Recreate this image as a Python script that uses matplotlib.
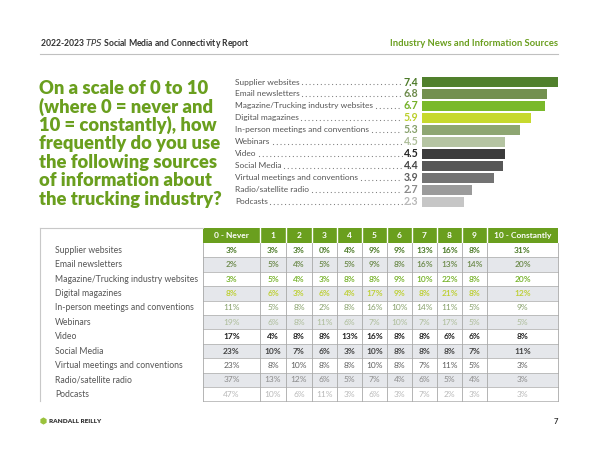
import matplotlib
matplotlib.use('Agg')
import matplotlib.pyplot as plt
from matplotlib.patches import Rectangle, RegularPolygon

plt.rcParams['font.family'] = ['Lato', 'DejaVu Sans']

# ---- data ----
sources = ['Supplier websites', 'Email newsletters', 'Magazine/Trucking industry websites',
           'Digital magazines', 'In-person meetings and conventions', 'Webinars', 'Video',
           'Social Media', 'Virtual meetings and conventions', 'Radio/satellite radio', 'Podcasts']
averages = [7.4, 6.8, 6.7, 5.9, 5.3, 4.5, 4.5, 4.4, 3.9, 2.7, 2.3]
scale_labels = ['0 - Never', '1', '2', '3', '4', '5', '6', '7', '8', '9', '10 - Constantly']
shares = [
    [3, 3, 3, 0, 4, 9, 9, 13, 16, 8, 31],
    [2, 5, 4, 5, 5, 9, 8, 16, 13, 14, 20],
    [3, 5, 4, 3, 8, 8, 9, 10, 22, 8, 20],
    [8, 6, 3, 6, 4, 17, 9, 8, 21, 8, 12],
    [11, 5, 8, 2, 8, 16, 10, 14, 11, 5, 9],
    [19, 6, 8, 11, 6, 7, 10, 7, 17, 5, 5],
    [17, 4, 8, 8, 13, 16, 8, 8, 6, 6, 8],
    [23, 10, 7, 6, 3, 10, 8, 8, 8, 7, 11],
    [23, 8, 10, 8, 8, 10, 8, 7, 11, 5, 3],
    [37, 13, 12, 6, 5, 7, 4, 6, 5, 4, 3],
    [47, 10, 6, 11, 3, 6, 3, 7, 2, 3, 3],
]
question = ['On a scale of 0 to 10', '(where 0 = never and', '10 = constantly), how',
            'frequently do you use', 'the following sources', 'of information about',
            'the trucking industry?']
report_title = '2022-2023 $\\it{TPS}$ Social Media and Connectivity Report'
section_title = 'Industry News and Information Sources'

bar_colors = ['#50802c', '#73904f', '#7ab92b', '#c7d92e', '#8ea672', '#b5c4a2',
              '#3b3b3b', '#575757', '#737373', '#9b9b9b', '#c6c6c6']
text_colors = ['#4c7a28', '#6c8a4a', '#74b127', '#bccf2c', '#86a06a', '#adbd99',
               '#222222', '#444444', '#5f5f5f', '#8a8a8a', '#b8b8b8']
text_weights = ['bold', 'semibold', 'semibold', 'semibold', 'normal', 'normal',
                'bold', 'bold', 'normal', 'normal', 'normal']
green = '#6a9f1e'

fig = plt.figure(figsize=(6, 4.63), dpi=100)
page = fig.add_axes([0, 0, 1, 1])
page.set_xlim(0, 600)
page.set_ylim(463, 0)
page.axis('off')

# ---- header ----
page.text(40, 44, report_title, fontsize=6.2, fontweight='bold', color='#333333', va='center')
page.text(558, 44, section_title, fontsize=6.8, fontweight='bold', color=green,
          va='center', ha='right')
page.plot([40, 558], [54, 54], color='#c0c0c0', lw=0.8)

# ---- question ----
for i, line in enumerate(question):
    page.text(39, 88 + i * 18.6, line, fontsize=13.2, fontweight='heavy', color=green,
              va='center')

# ---- bar chart ----
row_y0, row_dy = 82, 11.97
bar_left, px_per_unit = 422, 18.4
w = px_per_unit * max(averages)
top = row_y0 - row_dy / 2
h = row_dy * len(averages)
bax = fig.add_axes([bar_left / 600, 1 - (top + h) / 463, w / 600, h / 463])
bax.barh(range(len(averages)), averages, height=0.82, color=bar_colors)
bax.set_xlim(0, max(averages))
bax.set_ylim(len(averages) - 0.5, -0.5)
bax.axis('off')

renderer = fig.canvas.get_renderer()
inv = page.transData.inverted()
for i, (name, val) in enumerate(zip(sources, averages)):
    y = row_y0 + i * row_dy
    lt = page.text(235, y, name, fontsize=6.0, color='#555555', va='center')
    vt = page.text(418.5, y, f'{val:.1f}', fontsize=7.6, fontweight='bold',
                   color=text_colors[i], va='center', ha='right')
    lx = inv.transform((lt.get_window_extent(renderer).x1, 0))[0]
    vx = inv.transform((vt.get_window_extent(renderer).x0, 0))[0]
    page.plot([lx + 2.5, vx - 1.5], [y + 2.4] * 2, color='#777777', lw=0.9,
              linestyle=(0, (0.01, 3.0)), dash_capstyle='round')

# ---- table ----
col_edges = [203, 260, 286, 312, 337, 362, 387, 412, 437, 462, 487, 558]
head_top, head_h, row_h = 228, 15, 14.4
page.add_patch(Rectangle((col_edges[0], head_top), col_edges[-1] - col_edges[0], head_h,
                         facecolor=green, edgecolor='none'))
for j, lab in enumerate(scale_labels):
    cx = (col_edges[j] + col_edges[j + 1]) / 2
    page.text(cx, head_top + head_h / 2, lab, fontsize=6, fontweight='bold', color='white',
              ha='center', va='center')
    if j > 0:
        page.plot([col_edges[j]] * 2, [head_top, head_top + head_h], color='white', lw=1)

body_top = head_top + head_h
body_bot = body_top + row_h * len(sources)
for i, name in enumerate(sources):
    ry = body_top + i * row_h
    if i % 2 == 1:
        page.add_patch(Rectangle((col_edges[0], ry), col_edges[-1] - col_edges[0], row_h,
                                 facecolor='#e5e7eb', edgecolor='none'))
    page.plot([col_edges[0], col_edges[-1]], [ry + row_h] * 2, color='#b5b5b5', lw=0.6)
    page.text(55, ry + row_h / 2, name, fontsize=6.2, color='#555555', va='center')
    for j, v in enumerate(shares[i]):
        cx = (col_edges[j] + col_edges[j + 1]) / 2
        page.text(cx, ry + row_h / 2, f'{v}%', fontsize=6, fontweight=text_weights[i],
                  color=text_colors[i], ha='center', va='center')
for x in col_edges:
    page.plot([x, x], [body_top, body_bot], color='#a8a8a8', lw=0.6)
page.plot([40, col_edges[0]], [head_top, head_top], color='#c8c8c8', lw=0.8)
page.plot([40, 40], [head_top, body_bot], color='#c8c8c8', lw=0.8)

# ---- footer ----
page.add_patch(RegularPolygon((43.5, 421), numVertices=6, radius=3.6,
                              facecolor='#9ac23c', edgecolor='none'))
page.text(49, 421.5, 'RANDALL REILLY', fontsize=4.6, fontweight='heavy', color='#333333',
          va='center')
page.text(558, 421.5, '7', fontsize=5.5, fontweight='bold', color='#333333', va='center',
          ha='right')

fig.savefig('out.png', dpi=100)
